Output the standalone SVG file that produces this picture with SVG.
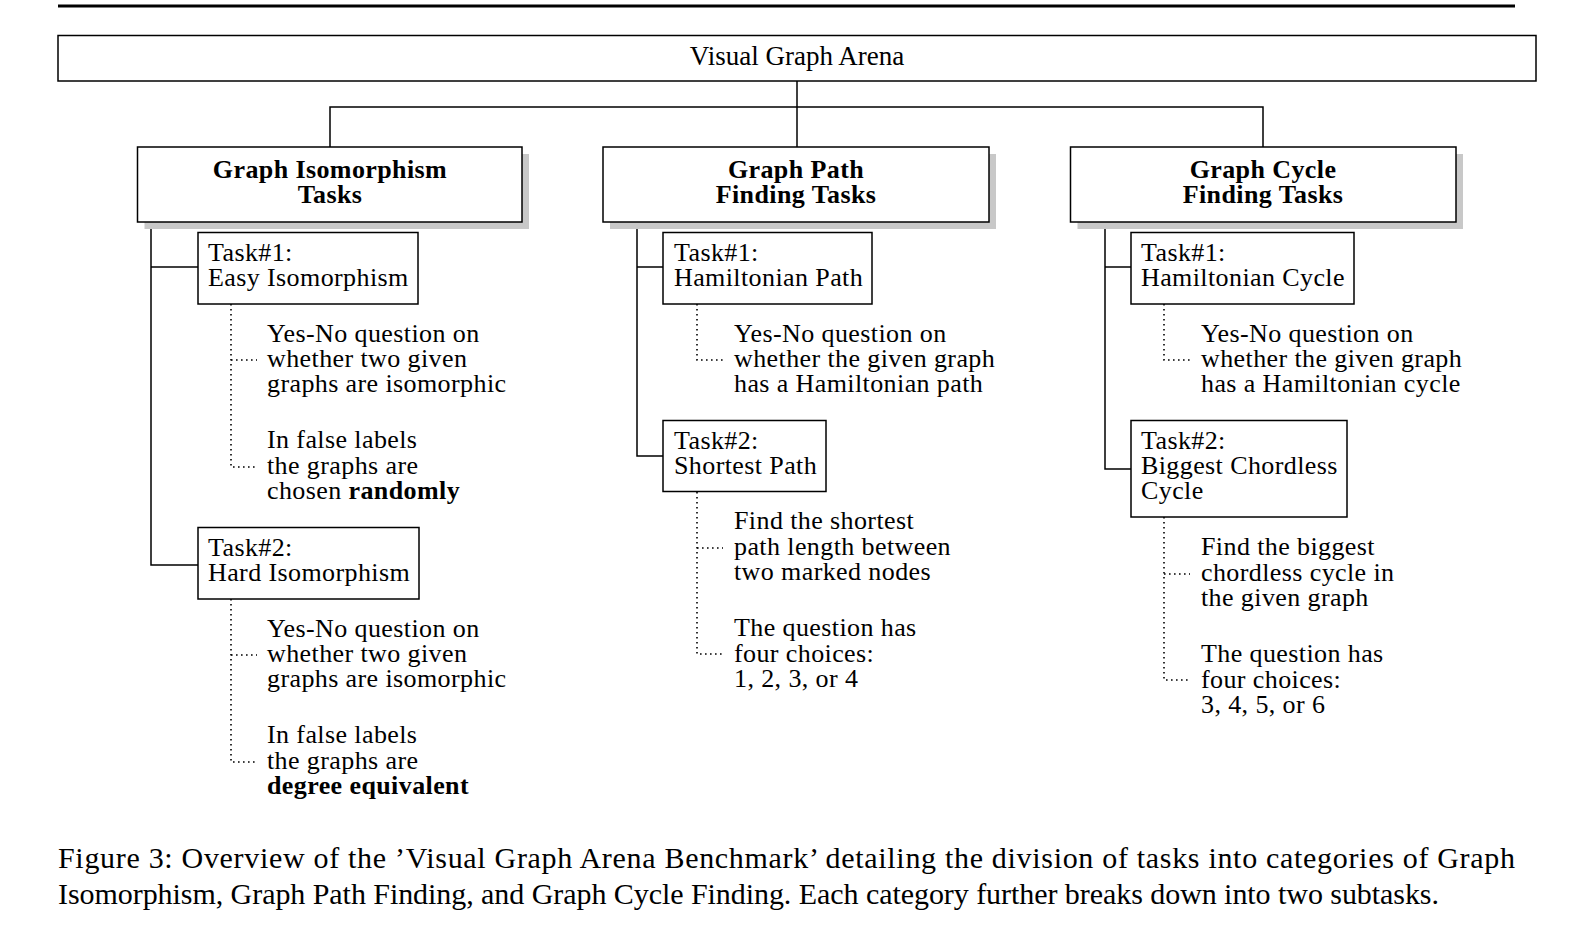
<svg xmlns="http://www.w3.org/2000/svg" width="1591" height="940" viewBox="0 0 1591 940">
<style>
.bg{fill:#fff}
.box{fill:#fff;stroke:#000;stroke-width:1.5}
.sh{fill:#c8c8c8}
.t{font-family:"Liberation Serif","Times New Roman",serif;font-size:26px;letter-spacing:0.4px;fill:#000}
.r{font-size:27px;letter-spacing:0}
.b{font-weight:bold}
.m{text-anchor:middle}
.ln{stroke:#000;stroke-width:1.5;fill:none}
.dt{stroke:#000;stroke-width:1.6;stroke-dasharray:1.6 3.4;fill:none}
.cap{font-family:"Liberation Serif","Times New Roman",serif;font-size:30px;fill:#000}
</style>
<rect class="bg" x="0" y="0" width="1591" height="940"/>
<line x1="58" y1="6" x2="1515" y2="6" stroke="#000" stroke-width="3"/>

<g id="connectors">
  <polyline class="ln" points="797,81 797,147"/>
  <polyline class="ln" points="330,147 330,107 1263,107 1263,147"/>
  <polyline class="ln" points="151,222 151,565 198,565"/>
  <line class="ln" x1="151" y1="267" x2="198" y2="267"/>
  <polyline class="ln" points="637,222 637,456 663,456"/>
  <line class="ln" x1="637" y1="267" x2="663" y2="267"/>
  <polyline class="ln" points="1105,222 1105,469 1131,469"/>
  <line class="ln" x1="1105" y1="267" x2="1131" y2="267"/>
  <polyline class="dt" points="231,304 231,467 257,467"/>
  <line class="dt" x1="231" y1="360" x2="257" y2="360"/>
  <polyline class="dt" points="231,599 231,762 257,762"/>
  <line class="dt" x1="231" y1="655" x2="257" y2="655"/>
  <polyline class="dt" points="697,304 697,360 723,360"/>
  <polyline class="dt" points="697,492 697,654 723,654"/>
  <line class="dt" x1="697" y1="548" x2="723" y2="548"/>
  <polyline class="dt" points="1164,304 1164,360 1190,360"/>
  <polyline class="dt" points="1164,517 1164,680 1190,680"/>
  <line class="dt" x1="1164" y1="574" x2="1190" y2="574"/>
</g>

<g id="root">
  <rect class="box" x="58" y="35.5" width="1478" height="45.5"/>
  <text class="t r m" x="797" y="65">Visual Graph Arena</text>
</g>

<g id="cat-iso">
  <rect class="sh" x="144.5" y="154" width="384.5" height="75"/>
  <rect class="box" x="137.5" y="147" width="384.5" height="75"/>
  <text class="t b m" x="330" y="178">Graph Isomorphism<tspan x="330" dy="25">Tasks</tspan></text>
</g>
<g id="cat-path">
  <rect class="sh" x="610" y="154" width="386" height="75"/>
  <rect class="box" x="603" y="147" width="386" height="75"/>
  <text class="t b m" x="796" y="178">Graph Path<tspan x="796" dy="25">Finding Tasks</tspan></text>
</g>
<g id="cat-cycle">
  <rect class="sh" x="1077.5" y="154" width="385.5" height="75"/>
  <rect class="box" x="1070.5" y="147" width="385.5" height="75"/>
  <text class="t b m" x="1263" y="178">Graph Cycle<tspan x="1263" dy="25">Finding Tasks</tspan></text>
</g>

<g id="iso-task1">
  <rect class="box" x="198" y="232.5" width="220" height="71.5"/>
  <text class="t" x="208" y="261">Task#1:<tspan x="208" dy="25">Easy Isomorphism</tspan></text>
</g>
<g id="iso-task1-desc1">
  <text class="t" x="267" y="342">Yes-No question on<tspan x="267" dy="25">whether two given</tspan><tspan x="267" dy="25">graphs are isomorphic</tspan></text>
</g>
<g id="iso-task1-desc2">
  <text class="t" x="267" y="448">In false labels<tspan x="267" dy="25.5">the graphs are</tspan><tspan x="267" dy="25.5">chosen <tspan class="b">randomly</tspan></tspan></text>
</g>
<g id="iso-task2">
  <rect class="box" x="198" y="527.5" width="221" height="71.5"/>
  <text class="t" x="208" y="556">Task#2:<tspan x="208" dy="25">Hard Isomorphism</tspan></text>
</g>
<g id="iso-task2-desc1">
  <text class="t" x="267" y="637">Yes-No question on<tspan x="267" dy="25">whether two given</tspan><tspan x="267" dy="25">graphs are isomorphic</tspan></text>
</g>
<g id="iso-task2-desc2">
  <text class="t" x="267" y="743">In false labels<tspan x="267" dy="25.5">the graphs are</tspan><tspan x="267" dy="25.5" class="b">degree equivalent</tspan></text>
</g>

<g id="path-task1">
  <rect class="box" x="663" y="232.5" width="209" height="71.5"/>
  <text class="t" x="674" y="261">Task#1:<tspan x="674" dy="25">Hamiltonian Path</tspan></text>
</g>
<g id="path-task1-desc">
  <text class="t" x="734" y="342">Yes-No question on<tspan x="734" dy="25">whether the given graph</tspan><tspan x="734" dy="25">has a Hamiltonian path</tspan></text>
</g>
<g id="path-task2">
  <rect class="box" x="663" y="420.5" width="163" height="71"/>
  <text class="t" x="674" y="449">Task#2:<tspan x="674" dy="25">Shortest Path</tspan></text>
</g>
<g id="path-task2-desc1">
  <text class="t" x="734" y="529">Find the shortest<tspan x="734" dy="25.5">path length between</tspan><tspan x="734" dy="25.5">two marked nodes</tspan></text>
</g>
<g id="path-task2-desc2">
  <text class="t" x="734" y="636">The question has<tspan x="734" dy="25.5">four choices:</tspan><tspan x="734" dy="25.5">1, 2, 3, or 4</tspan></text>
</g>

<g id="cycle-task1">
  <rect class="box" x="1131" y="232.5" width="223" height="71.5"/>
  <text class="t" x="1141" y="261">Task#1:<tspan x="1141" dy="25">Hamiltonian Cycle</tspan></text>
</g>
<g id="cycle-task1-desc">
  <text class="t" x="1201" y="342">Yes-No question on<tspan x="1201" dy="25">whether the given graph</tspan><tspan x="1201" dy="25">has a Hamiltonian cycle</tspan></text>
</g>
<g id="cycle-task2">
  <rect class="box" x="1131" y="420.5" width="216" height="96.5"/>
  <text class="t" x="1141" y="449">Task#2:<tspan x="1141" dy="25">Biggest Chordless</tspan><tspan x="1141" dy="25">Cycle</tspan></text>
</g>
<g id="cycle-task2-desc1">
  <text class="t" x="1201" y="555">Find the biggest<tspan x="1201" dy="25.5">chordless cycle in</tspan><tspan x="1201" dy="25.5">the given graph</tspan></text>
</g>
<g id="cycle-task2-desc2">
  <text class="t" x="1201" y="662">The question has<tspan x="1201" dy="25.5">four choices:</tspan><tspan x="1201" dy="25.5">3, 4, 5, or 6</tspan></text>
</g>

<g id="caption">
  <text class="cap" x="58" y="868" textLength="1457" lengthAdjust="spacing">Figure 3: Overview of the ’Visual Graph Arena Benchmark’ detailing the division of tasks into categories of Graph</text>
  <text class="cap" x="58" y="904" textLength="1381" lengthAdjust="spacing">Isomorphism, Graph Path Finding, and Graph Cycle Finding. Each category further breaks down into two subtasks.</text>
</g>
</svg>
